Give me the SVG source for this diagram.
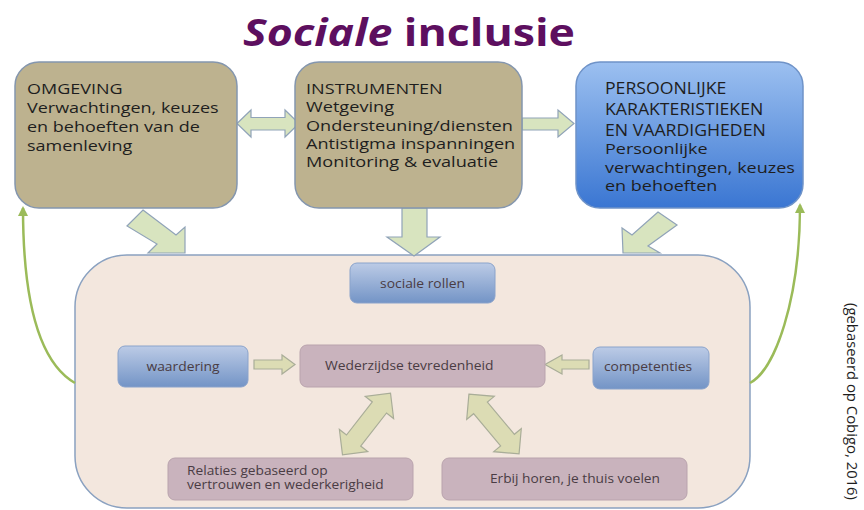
<svg xmlns="http://www.w3.org/2000/svg" width="864" height="510" viewBox="0 0 864 510">
  <defs>
    <linearGradient id="gradPerson" x1="0" y1="0" x2="0" y2="1">
      <stop offset="0" stop-color="#9cc0f0"/>
      <stop offset="1" stop-color="#3a76d2"/>
    </linearGradient>
    <linearGradient id="gradSmallBlue" x1="0" y1="0" x2="0" y2="1">
      <stop offset="0" stop-color="#bccbe6"/>
      <stop offset="1" stop-color="#7394c6"/>
    </linearGradient>
    <marker id="greenHead" viewBox="0 0 10 10" refX="8" refY="5" markerWidth="4" markerHeight="4" orient="auto">
      <path d="M0,0 L10,5 L0,10 Z" fill="#9bbb59"/>
    </marker>
    <path id="dblArrow" d="M-39,0 L-21,-18 L-21,-9 L21,-9 L21,-18 L39,0 L21,18 L21,9 L-21,9 L-21,18 Z"/>
  </defs>
  <style>
    .txt { font-family: "Open Sans", "Liberation Sans", sans-serif; fill: #1e1e1e; }
    .big { font-size: 15px; }
    .head { font-size: 15.5px; }
    .small { font-size: 12px; fill: #4a3c44; }
    .tan { fill: #bdb28f; stroke: #8496ae; stroke-width: 1.5; }
    .blueBox { fill: url(#gradPerson); stroke: #6f93c8; stroke-width: 1.5; }
    .stage { fill: #f3e7de; stroke: #8aa1c0; stroke-width: 1.5; }
    .sBlue { fill: url(#gradSmallBlue); stroke: #8aa3cb; stroke-width: 1; }
    .mauve { fill: #c9b3bd; stroke: #b9a3ad; stroke-width: 1; }
    .bigArrow { fill: #d8e4bf; stroke: #90a3b8; stroke-width: 1.2; }
    .inArrow { fill: #dcdcb4; stroke: #a9ad98; stroke-width: 1.2; }
    .loop { fill: none; stroke: #9bbb59; stroke-width: 2.5; marker-end: url(#greenHead); }
  </style>

  <rect width="864" height="510" fill="#ffffff"/>

  <!-- title -->
  <text x="243" y="46" font-family="'Open Sans', 'Liberation Sans', sans-serif" font-size="37" font-weight="bold" fill="#5d0f5f" textLength="332" lengthAdjust="spacingAndGlyphs"><tspan font-style="italic">Sociale</tspan> inclusie</text>

  <!-- large backdrop box behind the inner items -->
  <g id="stage">
    <rect class="stage" x="75" y="255" width="675" height="253" rx="52"/>
  </g>

  <!-- connectors -->
  <g id="connectors">
    <path class="bigArrow" d="M237,123.5 L251,110 L251,117.5 L285,117.5 L285,110 L299,123.5 L285,137 L285,130 L251,130 L251,137 Z"/>
    <path class="bigArrow" d="M522,118 L558,118 L558,110 L574,123.5 L558,137 L558,130 L522,130 Z"/>
    <path class="bigArrow" d="M402,208 L427,208 L427,237 L440,237 L414,256 L387,237 L402,237 Z"/>
    <path class="bigArrow" d="M143,210 L176,235 L185,227 L185,253 L148,253 L157,244 L127,226 Z"/>
    <path class="bigArrow" d="M658,212 L677,225 L648,246 L660,253 L623,253 L622,228 L632,235 Z"/>
    <path class="loop" d="M75,383 C35,360 23,290 23,208"/>
    <path class="loop" d="M750,383 C775,370 800,300 800,205"/>
    <path class="inArrow" d="M254,360 L282,360 L282,355 L295,364.5 L282,374 L282,369 L254,369 Z"/>
    <path class="inArrow" d="M589,360 L562,360 L562,355 L545,364.5 L562,374 L562,369 L589,369 Z"/>
    <use href="#dblArrow" class="inArrow" transform="translate(366.5,424) rotate(-52)"/>
    <use href="#dblArrow" class="inArrow" transform="translate(494,424) rotate(50)"/>
  </g>

  <g id="omgeving">
    <rect class="tan" x="15" y="62" width="222" height="146" rx="24"/>
    <text class="txt big" transform="translate(27,94) scale(1.2,1)">OMGEVING</text>
    <text class="txt big" transform="translate(27,113) scale(1.2,1)">Verwachtingen, keuzes</text>
    <text class="txt big" transform="translate(27,132) scale(1.2,1)">en behoeften van de</text>
    <text class="txt big" transform="translate(27,151) scale(1.2,1)">samenleving</text>
  </g>

  <g id="instrumenten">
    <rect class="tan" x="295" y="62" width="227" height="146" rx="24"/>
    <text class="txt big" transform="translate(306,94) scale(1.21,1)">INSTRUMENTEN</text>
    <text class="txt big" transform="translate(306,112) scale(1.21,1)">Wetgeving</text>
    <text class="txt big" transform="translate(306,131) scale(1.21,1)">Ondersteuning/diensten</text>
    <text class="txt big" transform="translate(306,149) scale(1.21,1)">Antistigma inspanningen</text>
    <text class="txt big" transform="translate(306,167) scale(1.21,1)">Monitoring &amp; evaluatie</text>
  </g>

  <g id="persoonlijk">
    <rect class="blueBox" x="576" y="62" width="227" height="146" rx="24"/>
    <text class="txt head" transform="translate(605,94) scale(1.14,1)">PERSOONLIJKE</text>
    <text class="txt head" transform="translate(605,115) scale(1.14,1)">KARAKTERISTIEKEN</text>
    <text class="txt head" transform="translate(605,136) scale(1.14,1)">EN VAARDIGHEDEN</text>
    <text class="txt big" transform="translate(605,154) scale(1.2,1)">Persoonlijke</text>
    <text class="txt big" transform="translate(605,173) scale(1.2,1)">verwachtingen, keuzes</text>
    <text class="txt big" transform="translate(605,191) scale(1.2,1)">en behoeften</text>
  </g>

  <g id="sociale-rollen">
    <rect class="sBlue" x="350" y="263" width="145" height="40" rx="7"/>
    <text class="txt small" text-anchor="middle" transform="translate(422.5,287.5) scale(1.155,1)">sociale rollen</text>
  </g>

  <g id="waardering">
    <rect class="sBlue" x="118" y="346" width="130" height="41" rx="7"/>
    <text class="txt small" text-anchor="middle" transform="translate(183,370.5) scale(1.155,1)">waardering</text>
  </g>

  <g id="tevredenheid">
    <rect class="mauve" x="300" y="345" width="245" height="42" rx="7"/>
    <text class="txt small" transform="translate(325,370) scale(1.155,1)">Wederzijdse tevredenheid</text>
  </g>

  <g id="competenties">
    <rect class="sBlue" x="593" y="347" width="116" height="42" rx="7"/>
    <text class="txt small" text-anchor="middle" transform="translate(648,371) scale(1.155,1)">competenties</text>
  </g>

  <g id="relaties">
    <rect class="mauve" x="168" y="458" width="245" height="42" rx="7"/>
    <text class="txt small" transform="translate(187,475) scale(1.145,1)">Relaties gebaseerd op</text>
    <text class="txt small" transform="translate(187,489) scale(1.145,1)">vertrouwen en wederkerigheid</text>
  </g>

  <g id="erbij-horen">
    <rect class="mauve" x="442" y="458" width="245" height="42" rx="7"/>
    <text class="txt small" transform="translate(490,483) scale(1.145,1)">Erbij horen, je thuis voelen</text>
  </g>

  <!-- source note -->
  <text class="txt" x="0" y="0" font-size="14.5" fill="#1a1a1a" textLength="197" lengthAdjust="spacingAndGlyphs" transform="translate(847,303) rotate(90)">(gebaseerd op Cobigo, 2016)</text>
</svg>
